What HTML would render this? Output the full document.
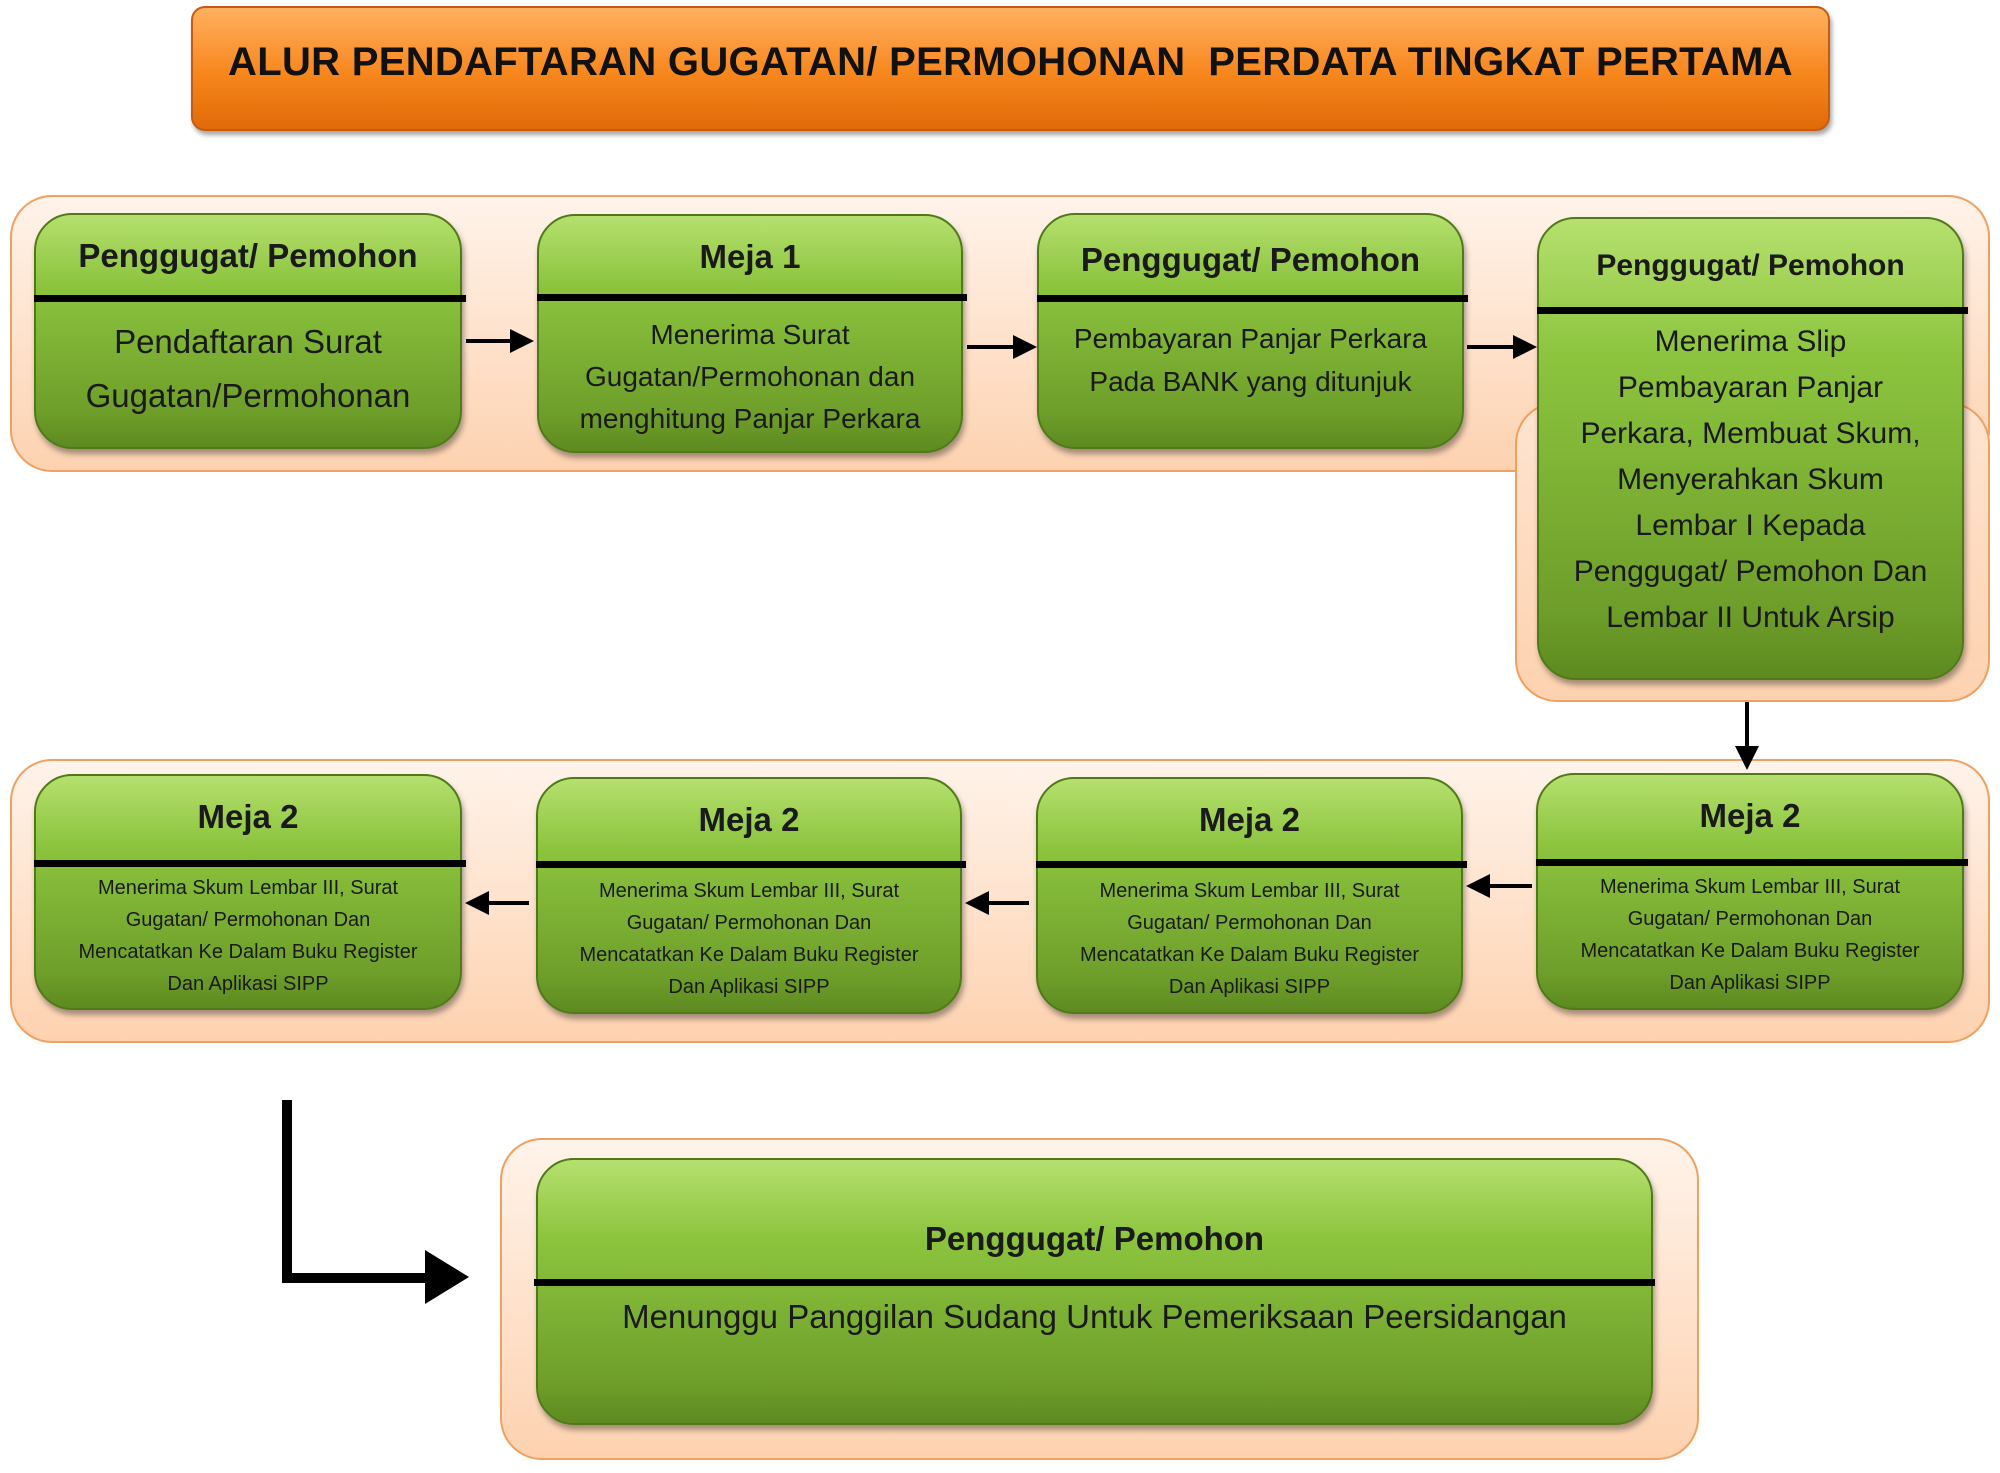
<!DOCTYPE html>
<html><head><meta charset="utf-8"><style>
body{margin:0;width:2000px;height:1473px;background:#fff;position:relative;overflow:hidden;font-family:"Liberation Sans",sans-serif}
.abs{position:absolute;box-sizing:border-box}
.title{left:191px;top:6px;width:1639px;height:125px;border-radius:14px;background:linear-gradient(#ffb060,#f7861c 55%,#e06a08);border:2px solid #c85a10;box-shadow:2px 4px 5px rgba(0,0,0,.35);font-weight:bold;font-size:40px;color:#111;text-align:center;line-height:108px;letter-spacing:.3px}
.band{border-radius:42px;background:linear-gradient(#fff3ea,#fdd2b0);border:2px solid #f0a060}
.box{border-radius:38px;background:linear-gradient(#b5e06e,#8cc43e 30%,#6e9e2a 85%,#5e8a20);border:2px solid #4f7a18;box-shadow:2px 5px 6px rgba(0,0,0,.35);text-align:center;color:#1a1a1a}
.hd{position:absolute;left:0;right:0;font-weight:bold;font-size:33px}
.dv{position:absolute;left:-2px;right:-6px;height:7px;background:#000}
.bd{position:absolute;left:10px;right:10px}
</style></head><body>
<div class="abs title">ALUR PENDAFTARAN GUGATAN/ PERMOHONAN &nbsp;PERDATA TINGKAT PERTAMA</div>

<div class="abs band" style="left:10px;top:195px;width:1980px;height:277px"></div>
<div class="abs band" style="left:1515px;top:402px;width:475px;height:300px;background:linear-gradient(#fee4cf,#fdd2b0)"></div>

<div class="abs box" style="left:34px;top:213px;width:428px;height:236px">
<div class="hd" style="top:22px">Penggugat/ Pemohon</div><div class="dv" style="top:80px"></div>
<div class="bd" style="top:100px;font-size:33px;line-height:54px">Pendaftaran Surat<br>Gugatan/Permohonan</div></div>
<div class="abs box" style="left:537px;top:214px;width:426px;height:239px">
<div class="hd" style="top:22px">Meja 1</div><div class="dv" style="top:78px"></div>
<div class="bd" style="top:98px;font-size:28px;line-height:42px">Menerima Surat<br>Gugatan/Permohonan dan<br>menghitung Panjar Perkara</div></div>
<div class="abs box" style="left:1037px;top:213px;width:427px;height:236px">
<div class="hd" style="top:26px">Penggugat/ Pemohon</div><div class="dv" style="top:80px"></div>
<div class="bd" style="top:102px;font-size:28px;line-height:43px">Pembayaran Panjar Perkara<br>Pada BANK yang ditunjuk</div></div>
<div class="abs box" style="left:1537px;top:217px;width:427px;height:463px">
<div class="hd" style="top:30px;font-size:30px">Penggugat/ Pemohon</div><div class="dv" style="top:88px"></div>
<div class="bd" style="top:100px;font-size:30px;line-height:46px">Menerima Slip<br>Pembayaran Panjar<br>Perkara, Membuat Skum,<br>Menyerahkan Skum<br>Lembar I Kepada<br>Penggugat/ Pemohon Dan<br>Lembar II Untuk Arsip</div></div>

<div class="abs band" style="left:10px;top:759px;width:1980px;height:284px"></div>
<div class="abs box" style="left:34px;top:774px;width:428px;height:236px">
<div class="hd" style="top:22px">Meja 2</div><div class="dv" style="top:84px"></div>
<div class="bd" style="top:96px;font-size:20px;line-height:32px">Menerima Skum Lembar III, Surat<br>Gugatan/ Permohonan Dan<br>Mencatatkan Ke Dalam Buku Register<br>Dan Aplikasi SIPP</div></div>
<div class="abs box" style="left:536px;top:777px;width:426px;height:237px">
<div class="hd" style="top:22px">Meja 2</div><div class="dv" style="top:82px"></div>
<div class="bd" style="top:96px;font-size:20px;line-height:32px">Menerima Skum Lembar III, Surat<br>Gugatan/ Permohonan Dan<br>Mencatatkan Ke Dalam Buku Register<br>Dan Aplikasi SIPP</div></div>
<div class="abs box" style="left:1036px;top:777px;width:427px;height:237px">
<div class="hd" style="top:22px">Meja 2</div><div class="dv" style="top:82px"></div>
<div class="bd" style="top:96px;font-size:20px;line-height:32px">Menerima Skum Lembar III, Surat<br>Gugatan/ Permohonan Dan<br>Mencatatkan Ke Dalam Buku Register<br>Dan Aplikasi SIPP</div></div>
<div class="abs box" style="left:1536px;top:773px;width:428px;height:237px">
<div class="hd" style="top:22px">Meja 2</div><div class="dv" style="top:84px"></div>
<div class="bd" style="top:96px;font-size:20px;line-height:32px">Menerima Skum Lembar III, Surat<br>Gugatan/ Permohonan Dan<br>Mencatatkan Ke Dalam Buku Register<br>Dan Aplikasi SIPP</div></div>

<div class="abs band" style="left:500px;top:1138px;width:1199px;height:322px"></div>
<div class="abs box" style="left:536px;top:1158px;width:1117px;height:267px">
<div class="hd" style="top:60px">Penggugat/ Pemohon</div><div class="dv" style="top:119px;left:-4px;right:-4px"></div>
<div class="bd" style="top:138px;font-size:33px">Menunggu Panggilan Sudang Untuk Pemeriksaan Peersidangan</div></div>

<svg class="abs" style="left:0;top:0" width="2000" height="1473">
<defs><marker id="a" markerWidth="6" markerHeight="6" refX="5" refY="3" orient="auto" markerUnits="strokeWidth"><path d="M0,0 L6,3 L0,6 Z" fill="#000"/></marker></defs>
<g stroke="#000" stroke-width="4" fill="none">
<line x1="466" y1="341" x2="530" y2="341" marker-end="url(#a)"/>
<line x1="967" y1="347" x2="1033" y2="347" marker-end="url(#a)"/>
<line x1="1467" y1="347" x2="1533" y2="347" marker-end="url(#a)"/>
<line x1="1747" y1="702" x2="1747" y2="766" marker-end="url(#a)"/>
<line x1="1532" y1="886" x2="1470" y2="886" marker-end="url(#a)"/>
<line x1="1029" y1="903" x2="969" y2="903" marker-end="url(#a)"/>
<line x1="529" y1="903" x2="469" y2="903" marker-end="url(#a)"/>
</g>
<path d="M282,1100 H292 V1273 H425 V1250 L469,1277 L425,1304 V1283 H282 Z" fill="#000"/>
</svg>
</body></html>
